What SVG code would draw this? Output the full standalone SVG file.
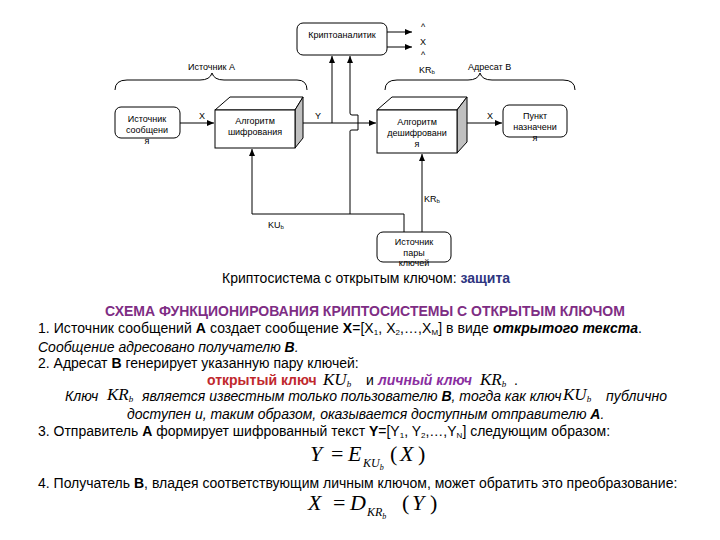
<svg xmlns="http://www.w3.org/2000/svg" width="720" height="540" viewBox="0 0 720 540">
<style>
.ln{fill:none;stroke:#000;stroke-width:1}
.bx{fill:#fff;stroke:#000;stroke-width:1}
.sm{font-family:"Liberation Sans",Arial,sans-serif;font-size:9px;fill:#000}
.c{text-anchor:middle}
.tx{font-family:"Liberation Sans",Arial,sans-serif;font-size:14px}
.it{font-style:italic}
.b{font-weight:bold}
.m{font-family:"Liberation Serif","Times New Roman",serif;font-style:italic}
.n{font-style:normal}
.red{fill:#c0282d}
.pur{fill:#8a2ea0}
.ttl{fill:#7e2d84}
.blu{fill:#2e3580}
</style>
<defs>
<marker id="ar" markerWidth="8" markerHeight="8" refX="7" refY="4" orient="auto" markerUnits="userSpaceOnUse">
<path d="M0,1 L7,4 L0,7 Z" fill="#000"/>
</marker>
</defs>
<rect width="720" height="540" fill="#fff"/>

<g id="connectors">
<path class="ln" d="M180,123 H214" marker-end="url(#ar)"/>
<path class="ln" d="M303,123 H376" marker-end="url(#ar)"/>
<path class="ln" d="M467,123 H502" marker-end="url(#ar)"/>
<path class="ln" d="M332,123 V56" marker-end="url(#ar)"/>
<path class="ln" d="M350,214 V131 Q350,130 352,130 H358 V115 H352 Q350,115 350,113 V56" marker-end="url(#ar)"/>
<path class="ln" d="M387,32 H412" marker-end="url(#ar)"/>
<path class="ln" d="M387,47 H412" marker-end="url(#ar)"/>
<path class="ln" d="M404,232 V214 H252 V149" marker-end="url(#ar)"/>
<path class="ln" d="M422,232 V154" marker-end="url(#ar)"/>
<path class="ln" d="M115,90 Q115,80 127,80 H200 Q210,80 212,73 Q214,80 224,80 H297 Q307,80 307,90"/>
<path class="ln" d="M385,90 Q385,80 397,80 H468 Q478,80 480,73 Q482,80 492,80 H563 Q575,80 575,90"/>
</g>

<g id="cryptanalyst">
<rect class="bx" x="297" y="23" width="90" height="32" rx="6"/>
<text class="sm c" x="342" y="38">Криптоаналитик</text>
</g>
<g id="outputs">
<text class="sm c" x="423" y="30">^</text>
<text class="sm c" x="423" y="45">X</text>
<text class="sm c" x="423" y="58">^</text>
<text class="sm" x="419" y="73">KR<tspan font-size="6" dy="1">b</tspan></text>
</g>
<g id="labels">
<text class="sm" x="188" y="70">Источник А</text>
<text class="sm" x="468" y="70">Адресат B</text>
<text class="sm c" x="202" y="119">X</text>
<text class="sm c" x="318" y="119">Y</text>
<text class="sm c" x="490" y="119">X</text>
<text class="sm" x="268" y="228">KU<tspan font-size="6" dy="1">b</tspan></text>
<text class="sm" x="424" y="202">KR<tspan font-size="6" dy="1">b</tspan></text>
</g>

<g id="source">
<rect class="bx" x="115" y="107" width="65" height="31" rx="6"/>
<text class="sm c" x="147" y="122">Источник</text>
<text class="sm c" x="147" y="133">сообщени</text>
<text class="sm c" x="147" y="144">я</text>
</g>

<g id="encrypt">
<polygon class="bx" points="215,110 230,97 303,97 295,110"/>
<polygon points="295,110 303,97 303,138 295,148" fill="#c0c0c0" stroke="#000"/>
<rect class="bx" x="215" y="110" width="80" height="38"/>
<text class="sm c" x="255" y="124">Алгоритм</text>
<text class="sm c" x="255" y="135">шифрования</text>
</g>

<g id="decrypt">
<polygon class="bx" points="377,110 392,97 467,97 457,110"/>
<polygon points="457,110 467,97 467,142 457,153" fill="#c0c0c0" stroke="#000"/>
<rect class="bx" x="377" y="110" width="80" height="43"/>
<text class="sm c" x="417" y="125">Алгоритм</text>
<text class="sm c" x="417" y="136">дешифровани</text>
<text class="sm c" x="417" y="147">я</text>
</g>

<g id="destination">
<rect class="bx" x="503" y="105" width="64" height="32" rx="6"/>
<text class="sm c" x="535" y="119">Пункт</text>
<text class="sm c" x="535" y="130">назначени</text>
<text class="sm c" x="535" y="141">я</text>
</g>

<g id="keysource">
<rect class="bx" x="377" y="232" width="74" height="30" rx="6"/>
<text class="sm c" x="414" y="245">Источник</text>
<text class="sm c" x="414" y="256">пары</text>
<text class="sm c" x="414" y="266">ключей</text>
</g>

<g id="text">
<text class="tx" x="222" y="283">Криптосистема с открытым ключом: <tspan class="b blu">защита</tspan></text>
<text class="tx b c ttl" x="365" y="316">СХЕМА ФУНКЦИОНИРОВАНИЯ КРИПТОСИСТЕМЫ С ОТКРЫТЫМ КЛЮЧОМ</text>
<text class="tx" x="38" y="333" textLength="604">1. Источник сообщений <tspan class="b">А</tspan> создает сообщение <tspan class="b">Х</tspan>=[Х<tspan font-size="8" dy="2">1</tspan><tspan dy="-2">, Х</tspan><tspan font-size="8" dy="2">2</tspan><tspan dy="-2">,…,Х</tspan><tspan font-size="8" dy="2">М</tspan><tspan dy="-2">] в виде </tspan><tspan class="b it">открытого текста</tspan>.</text>
<text class="tx it" x="38" y="352">Сообщение адресовано получателю <tspan class="b">В</tspan>.</text>
<text class="tx" x="38" y="368">2. Адресат <tspan class="b">В</tspan> генерирует указанную пару ключей:</text>
<text class="tx b red" x="207" y="385">открытый ключ</text>
<text class="m" x="323" y="385" font-size="17">KU<tspan font-size="9" dy="2">b</tspan></text>
<text class="tx" x="366" y="385">и</text>
<text class="tx b it pur" x="378" y="385">личный ключ</text>
<text class="m" x="480" y="385" font-size="17">KR<tspan font-size="9" dy="2">b</tspan></text>
<text class="tx" x="514" y="385">.</text>
<text class="tx it" x="65" y="401">Ключ</text>
<text class="m" x="107" y="400" font-size="17">KR<tspan font-size="9" dy="2">b</tspan></text>
<text class="tx it" x="142" y="401">является известным только пользователю <tspan class="b">B</tspan>, тогда как ключ</text>
<text class="m" x="563" y="400" font-size="17">KU<tspan font-size="9" dy="2">b</tspan></text>
<text class="tx it" x="606" y="401">публично</text>
<text class="tx it" x="127" y="419">доступен и, таким образом, оказывается доступным отправителю <tspan class="b">А</tspan>.</text>
<text class="tx" x="38" y="436">3. Отправитель <tspan class="b">А</tspan> формирует шифрованный текст <tspan class="b">Y</tspan>=[Y<tspan font-size="8" dy="2">1</tspan><tspan dy="-2">, Y</tspan><tspan font-size="8" dy="2">2</tspan><tspan dy="-2">,…,Y</tspan><tspan font-size="8" dy="2">N</tspan><tspan dy="-2">] следующим образом:</tspan></text>
<text class="m" x="310" y="461" font-size="22">Y</text>
<text class="m n" x="331" y="461" font-size="22">=</text>
<text class="m" x="348" y="461" font-size="22">E</text>
<text class="m" x="363" y="467" font-size="12">KU<tspan font-size="8" dy="3">b</tspan></text>
<text class="m n" x="390" y="461" font-size="22">(</text>
<text class="m" x="400" y="461" font-size="22">X</text>
<text class="m n" x="418" y="461" font-size="22">)</text>
<text class="tx" x="38" y="488">4. Получатель <tspan class="b">B</tspan>, владея соответствующим личным ключом, может обратить это преобразование:</text>
<text class="m" x="308" y="510" font-size="22">X</text>
<text class="m n" x="333" y="510" font-size="22">=</text>
<text class="m" x="350" y="510" font-size="22">D</text>
<text class="m" x="367" y="516" font-size="12">KR<tspan font-size="8" dy="3">b</tspan></text>
<text class="m n" x="402" y="510" font-size="22">(</text>
<text class="m" x="412" y="510" font-size="22">Y</text>
<text class="m n" x="430" y="510" font-size="22">)</text>
</g>
</svg>
